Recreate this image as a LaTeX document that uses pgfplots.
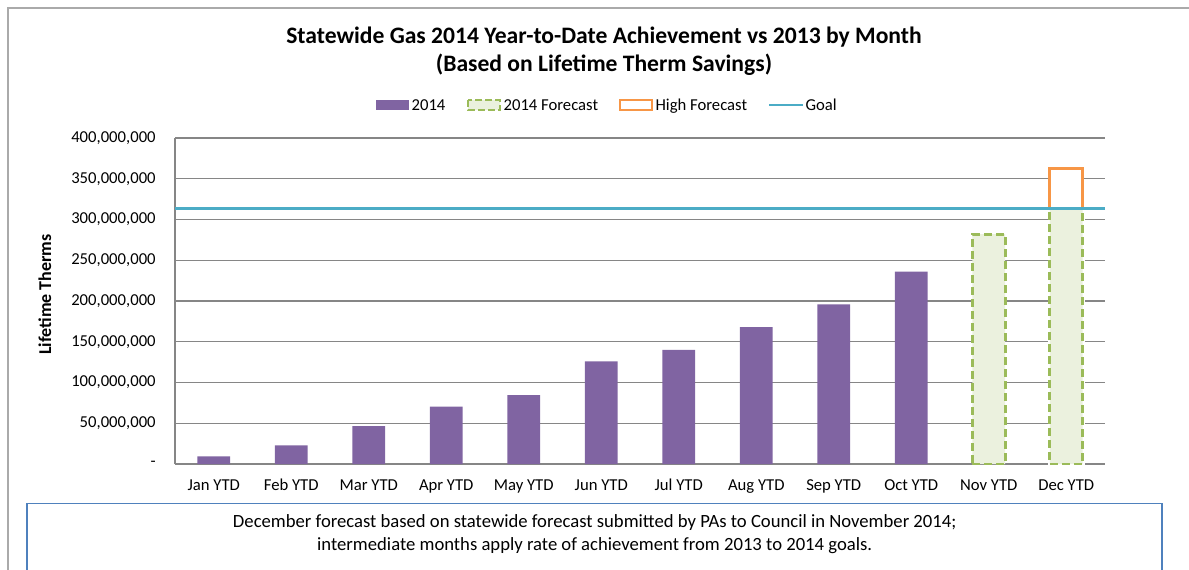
\documentclass[border=0pt]{standalone}
\usepackage{pgfplots}
\pgfplotsset{compat=1.18}
\usepackage{fontspec}
\setmainfont{Carlito}

\definecolor{barpurple}{RGB}{128,100,162}
\definecolor{fcgreen}{RGB}{155,187,89}
\definecolor{fcfill}{RGB}{235,241,222}
\definecolor{highorange}{RGB}{247,150,70}
\definecolor{goalblue}{RGB}{75,172,198}
\definecolor{gridgray}{RGB}{134,134,134}
\definecolor{boxblue}{RGB}{79,129,189}

\begin{document}
\begin{tikzpicture}
% page = 1189 x 569 px, 1 px = 0.75pt, y measured down from the top
\useasboundingbox (0,0) rectangle (891.75pt,-426.75pt);
\draw[gridgray!70, line width=1.5pt] (6pt,-430pt) -- (6pt,-6pt) -- (895pt,-6pt);

\node[font=\fontsize{17.7}{20.5}\selectfont\bfseries, align=center] at (453pt,-38.5pt)
  {Statewide Gas 2014 Year-to-Date Achievement vs 2013 by Month\\(Based on Lifetime Therm Savings)};

\begin{axis}[
    at={(131.25pt,-348pt)}, anchor=south west,
    scale only axis,
    width=697.5pt, height=244.5pt,
    xmin=-0.5, xmax=11.5,
    ymin=0, ymax=400,
    xtick={0,...,11},
    xticklabels={Jan YTD,Feb YTD,Mar YTD,Apr YTD,May YTD,Jun YTD,Jul YTD,Aug YTD,Sep YTD,Oct YTD,Nov YTD,Dec YTD},
    ytick={0,50,...,400},
    yticklabels={{-\hspace{7pt}},{50,000,000},{100,000,000},{150,000,000},{200,000,000},{250,000,000},{300,000,000},{350,000,000},{400,000,000}},
    major tick length=0pt,
    axis x line*=bottom, axis y line*=left,
    axis line style={gridgray, line width=0.9pt},
    ymajorgrids, grid style={gridgray, line width=0.9pt},
    tick label style={font=\fontsize{12.5}{15}\selectfont},
    yticklabel style={xshift=-11pt},
    xticklabel style={yshift=-8pt},
    ylabel={Lifetime Therms},
    ylabel style={font=\fontsize{13.5}{16}\selectfont\bfseries, at={(axis description cs:-0.1398,0.52)}, anchor=center},
    ybar, bar width=24.5pt, bar shift=0pt,
]
% high forecast first, its lower part covered by the forecast bar
\addplot[draw=highorange, fill=white, line width=2.2pt] coordinates {(11,363)};
\addplot[draw=white, fill=white, line width=3pt] coordinates {(11,313)};
\addplot[draw=fcgreen, fill=fcfill, line width=2.2pt, dash pattern=on 6pt off 3pt] coordinates {(10,282) (11,313)};
\addplot[draw=none, fill=barpurple] coordinates {
    (0,9.5) (1,23) (2,46.5) (3,70.5) (4,84.5) (5,126) (6,140) (7,168) (8,196) (9,236)};
\addplot[sharp plot, goalblue, line width=2.3pt] coordinates {(-0.5,313) (11.5,313)};
\end{axis}

% legend
\begin{scope}[font=\fontsize{12.5}{15}\selectfont]
\fill[barpurple] (282pt,-75pt) rectangle (306.75pt,-82.5pt);
\node[anchor=base west, inner sep=0pt] at (308.5pt,-83pt) {2014};
\draw[fcgreen, fill=fcfill, line width=2pt, dash pattern=on 5pt off 2.5pt] (351pt,-75pt) rectangle (375pt,-82.5pt);
\node[anchor=base west, inner sep=0pt] at (377.5pt,-83pt) {2014 Forecast};
\draw[highorange, fill=white, line width=2pt] (465pt,-75pt) rectangle (489pt,-82.5pt);
\node[anchor=base west, inner sep=0pt] at (491.5pt,-83pt) {High Forecast};
\draw[goalblue, line width=2pt] (577pt,-78.75pt) -- (602pt,-78.75pt);
\node[anchor=base west, inner sep=0pt] at (604pt,-83pt) {Goal};
\end{scope}

% note box
\draw[boxblue, line width=1.2pt] (20.25pt,-430pt) -- (20.25pt,-377.5pt) -- (871.5pt,-377.5pt) -- (871.5pt,-430pt);
\node[font=\fontsize{14}{17.25}\selectfont, align=center] at (446pt,-400.5pt)
  {December forecast based on statewide forecast submitted by PAs to Council in November 2014;\\intermediate months apply rate of achievement from 2013 to 2014 goals.};
\end{tikzpicture}
\end{document}
